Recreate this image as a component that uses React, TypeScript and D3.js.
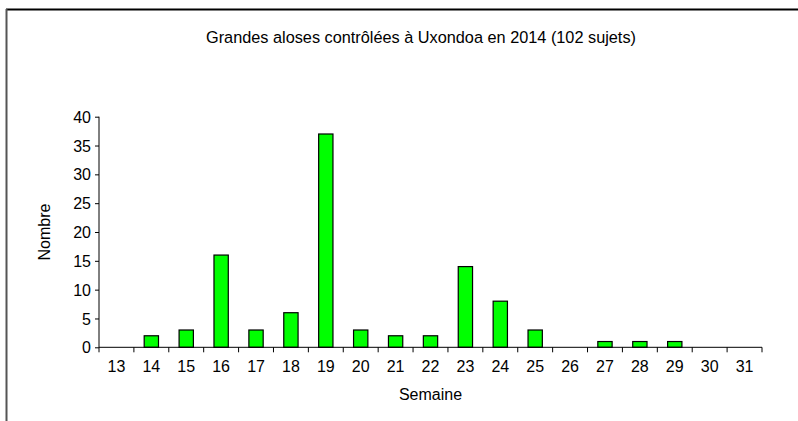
import React, { useEffect, useRef } from 'react'
import * as d3 from 'd3'

const weeks = ['13', '14', '15', '16', '17', '18', '19', '20', '21', '22', '23', '24', '25', '26', '27', '28', '29', '30', '31']
const counts = [0, 2, 3, 16, 3, 6, 37, 3, 2, 2, 14, 8, 3, 0, 1, 1, 1, 0, 0]
const yTicks = [0, 5, 10, 15, 20, 25, 30, 35, 40]

const title = 'Grandes aloses contrôlées à Uxondoa en 2014 (102 sujets)'
const xLabel = 'Semaine'
const yLabel = 'Nombre'

const W = 798
const H = 421
const margin = { left: 99, right: 36, top: 116.7, bottom: 73.7 }
const font = '"Liberation Sans", Arial, sans-serif'

const App = (): JSX.Element => {
  const ref = useRef<SVGSVGElement>(null)

  useEffect(() => {
    const svg = d3.select(ref.current)
    svg.selectAll('*').remove()

    const innerW = W - margin.left - margin.right
    const innerH = H - margin.top - margin.bottom

    // outer frame (cut off on the right and bottom)
    svg
      .append('line')
      .attr('x1', 6).attr('x2', W).attr('y1', 9.5).attr('y2', 9.5)
      .attr('stroke', '#000').attr('stroke-width', 2)
    svg
      .append('line')
      .attr('x1', 6.5).attr('x2', 6.5).attr('y1', 9).attr('y2', H)
      .attr('stroke', '#555').attr('stroke-width', 2)

    svg
      .append('text')
      .attr('x', 421)
      .attr('y', 43)
      .attr('text-anchor', 'middle')
      .attr('font-family', font)
      .attr('font-size', 16.3)
      .attr('fill', '#000')
      .text(title)

    const g = svg
      .append('g')
      .attr('transform', 'translate(' + margin.left + ',' + margin.top + ')')

    const x = d3.scaleBand<string>().domain(weeks).range([0, innerW]).paddingInner(0.59).paddingOuter(0.295)
    const xb = d3.scaleBand<string>().domain(weeks).range([0, innerW])
    const y = d3.scaleLinear().domain([0, 40]).range([innerH, 0])

    // y axis
    g.append('g').call(gg => {
      gg.call(d3.axisLeft(y).tickValues(yTicks).tickSize(4).tickPadding(4))
      gg.select('.domain').attr('stroke', '#000').attr('d', 'M0,' + innerH + 'V0')
      gg.selectAll('.tick line').attr('stroke', '#000')
      gg.selectAll('.tick text')
        .attr('font-family', font)
        .attr('font-size', 16)
        .attr('fill', '#000')
        .attr('dy', '0.35em')
    })

    // bars
    g.selectAll('rect.bar')
      .data(counts)
      .join('rect')
      .attr('class', 'bar')
      .attr('x', (_d, i) => x(weeks[i]) as number)
      .attr('width', x.bandwidth())
      .attr('y', d => y(d))
      .attr('height', d => innerH - y(d))
      .attr('fill', '#00ff00')
      .attr('stroke', '#000')
      .attr('stroke-width', 1.2)
      .style('display', d => (d > 0 ? null : 'none'))

    // x axis
    const xAxisG = g.append('g').attr('transform', 'translate(0,' + innerH + ')')
    xAxisG
      .append('line')
      .attr('x1', 0).attr('x2', innerW).attr('y1', 0).attr('y2', 0)
      .attr('stroke', '#000')
    const bounds = [...weeks.map(w => xb(w) as number), innerW]
    xAxisG
      .selectAll('line.tk')
      .data(bounds)
      .join('line')
      .attr('class', 'tk')
      .attr('x1', d => d).attr('x2', d => d)
      .attr('y1', 0).attr('y2', 5)
      .attr('stroke', '#000')
    xAxisG
      .selectAll('text.lbl')
      .data(weeks)
      .join('text')
      .attr('class', 'lbl')
      .attr('x', d => (xb(d) as number) + xb.bandwidth() / 2)
      .attr('y', 25)
      .attr('text-anchor', 'middle')
      .attr('font-family', font)
      .attr('font-size', 16)
      .attr('fill', '#000')
      .text(d => d)

    g.append('text')
      .attr('x', innerW / 2)
      .attr('y', innerH + 53)
      .attr('text-anchor', 'middle')
      .attr('font-family', font)
      .attr('font-size', 16)
      .attr('fill', '#000')
      .text(xLabel)

    g.append('text')
      .attr('transform', 'translate(' + -49 + ',' + innerH / 2 + ') rotate(-90)')
      .attr('text-anchor', 'middle')
      .attr('font-family', font)
      .attr('font-size', 16)
      .attr('fill', '#000')
      .text(yLabel)
  }, [])

  return (
    <svg
      ref={ref}
      width={W}
      height={H}
      style={{ position: 'absolute', left: 0, top: 0, background: '#fff' }}
    />
  )
}

export default App
